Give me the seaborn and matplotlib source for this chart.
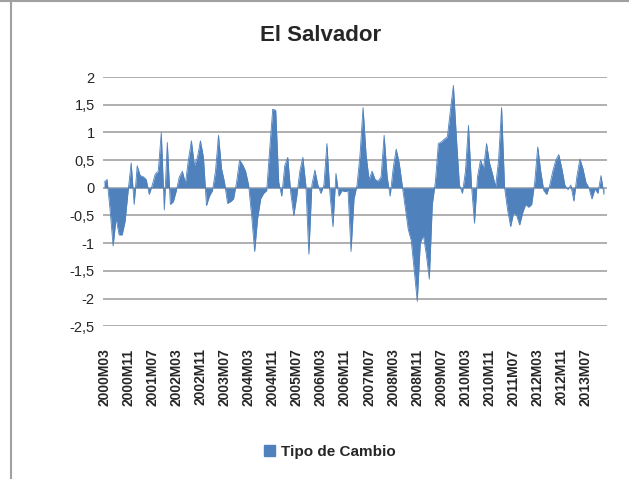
import matplotlib
matplotlib.use("Agg")
import numpy as np
import pandas as pd
import matplotlib.pyplot as plt
import seaborn as sns
from matplotlib.lines import Line2D
from matplotlib.patches import Patch

# Monthly series, 2000M03 .. 2014M01
tipo_cambio = [
    0.10, 0.15, -0.40, -1.05, -0.55, -0.85, -0.85, -0.60, -0.05, 0.45,
    -0.30, 0.40, 0.22, 0.20, 0.15, -0.12, 0.05, 0.25, 0.30, 1.00,
    -0.40, 0.82, -0.30, -0.25, -0.05, 0.20, 0.30, 0.08, 0.50, 0.85,
    0.40, 0.55, 0.85, 0.55, -0.32, -0.15, -0.05, 0.30, 0.95, 0.35,
    0.10, -0.28, -0.25, -0.20, 0.10, 0.50, 0.42, 0.30, 0.05, -0.50,
    -1.15, -0.55, -0.20, -0.10, -0.05, 0.70, 1.42, 1.40, 0.10, -0.15,
    0.40, 0.55, -0.10, -0.50, -0.15, 0.30, 0.55, 0.05, -1.20, 0.05,
    0.32, 0.05, -0.10, 0.05, 0.80, -0.10, -0.70, 0.26, -0.15, -0.05,
    -0.07, -0.05, -1.15, -0.20, 0.05, 0.60, 1.45, 0.60, 0.15, 0.30,
    0.15, 0.12, 0.20, 0.95, 0.20, -0.15, 0.35, 0.70, 0.45, 0.05,
    -0.35, -0.75, -0.95, -1.50, -2.05, -1.00, -0.85, -1.20, -1.65, -0.30,
    0.10, 0.80, 0.83, 0.88, 0.92, 1.40, 1.85, 0.90, 0.05, -0.10,
    0.30, 1.13, 0.05, -0.64, 0.20, 0.50, 0.35, 0.80, 0.45, 0.25,
    0.02, 0.50, 1.45, 0.00, -0.40, -0.70, -0.45, -0.50, -0.67, -0.45,
    -0.30, -0.35, -0.30, 0.10, 0.74, 0.30, -0.05, -0.12, 0.05, 0.30,
    0.50, 0.60, 0.35, 0.05, -0.03, 0.05, -0.24, 0.20, 0.52, 0.35,
    0.10, 0.00, -0.20, -0.02, -0.10, 0.22, -0.12,
]

tick_labels = [
    "2000M03", "2000M11", "2001M07", "2002M03", "2002M11", "2003M07",
    "2004M03", "2004M11", "2005M07", "2006M03", "2006M11", "2007M07",
    "2008M03", "2008M11", "2009M07", "2010M03", "2010M11", "2011M07",
    "2012M03", "2012M11", "2013M07",
]
y_ticks = [2, 1.5, 1, 0.5, 0, -0.5, -1, -1.5, -2, -2.5]

df = pd.DataFrame({"mes": np.arange(len(tipo_cambio)), "valor": tipo_cambio})

blue = "#4F81BD"

sns.set_style("white")
plt.rcParams["font.family"] = ["Liberation Sans", "DejaVu Sans"]

fig = plt.figure(figsize=(6.29, 4.79), dpi=100)
ax = fig.add_axes([0.164, 0.319, 0.801, 0.520])

sns.lineplot(data=df, x="mes", y="valor", color=blue, lw=0.6, ax=ax)
ax.fill_between(df["mes"], df["valor"], 0, color=blue, lw=0)

ax.set_xlim(-0.3, len(tipo_cambio))
ax.set_ylim(-2.5, 2)
ax.set_yticks(y_ticks)
ax.set_yticklabels([("%g" % v).replace(".", ",") for v in y_ticks], fontsize=10.5)
ax.set_xticks(np.arange(0, 8 * len(tick_labels), 8))
ax.set_xticklabels(tick_labels, rotation=90, fontsize=10, fontweight="bold")
ax.tick_params(axis="y", length=0, pad=6)
ax.tick_params(axis="x", length=0, pad=16)
ax.set_xlabel("")
ax.set_ylabel("")

for v in y_ticks:
    ax.axhline(v, color="#9a9a9a", lw=1.1, zorder=0)
for s in ax.spines.values():
    s.set_visible(False)

fig.text(0.51, 0.926, "El Salvador", ha="center", va="center",
         fontsize=16, fontweight="bold")

fig.legend(handles=[Patch(color=blue, label="Tipo de Cambio")],
           loc="center", bbox_to_anchor=(0.525, 0.057), frameon=False,
           prop={"weight": "bold", "size": 11}, handlelength=0.7,
           handleheight=0.7, handletextpad=0.4)

# chart border (top and left edges)
fig.add_artist(Line2D([0, 1], [0.998, 0.998], color="#a0a0a0", lw=1.5))
fig.add_artist(Line2D([0.017, 0.017], [0, 1], color="#a0a0a0", lw=1.5))

fig.savefig("out.png", dpi=100)
